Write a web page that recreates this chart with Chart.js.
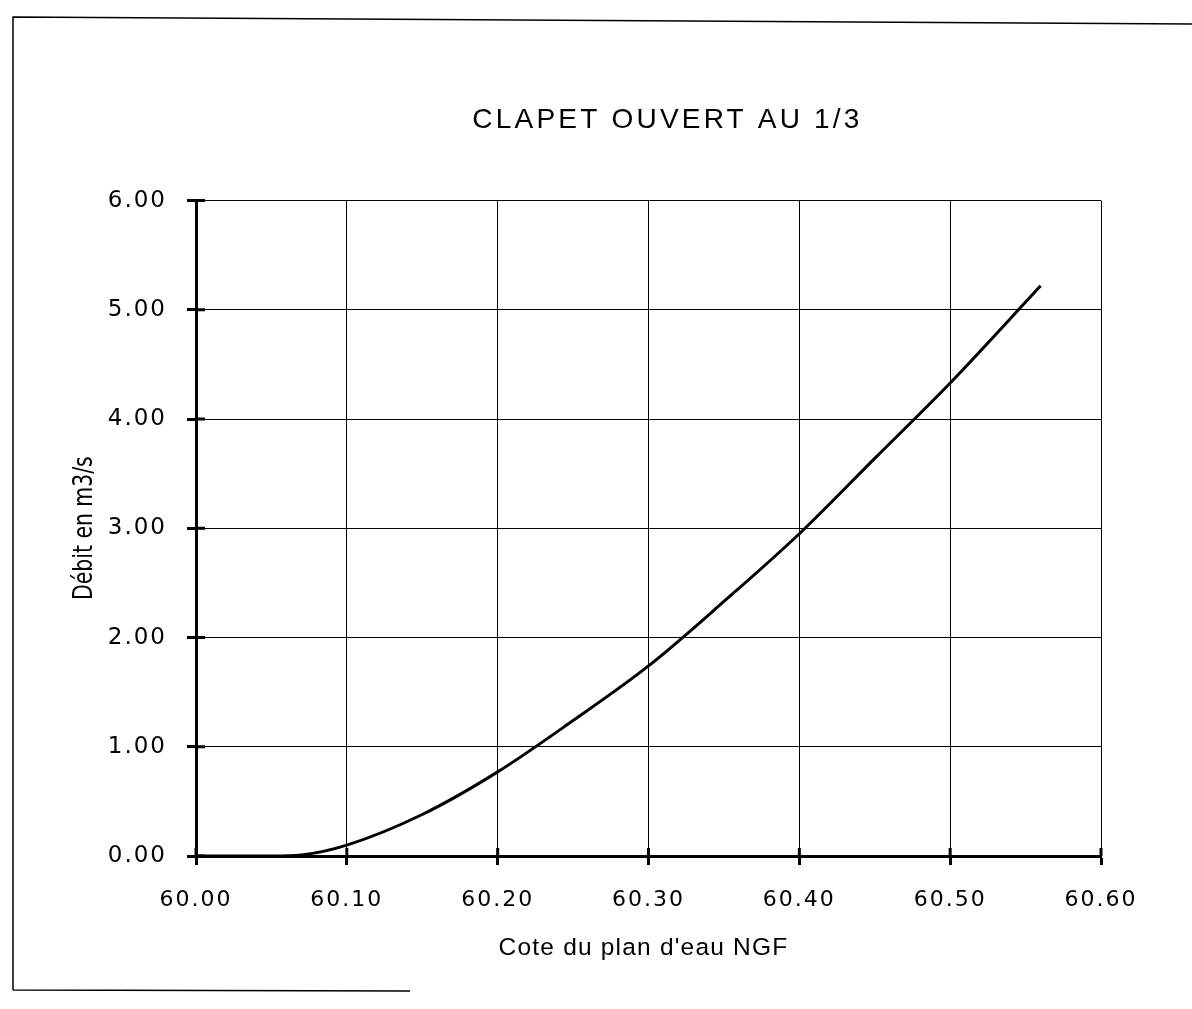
<!DOCTYPE html>
<html>
<head>
<meta charset="utf-8">
<script src="https://cdn.jsdelivr.net/npm/chart.js@4.4.1/dist/chart.umd.min.js"></script>
<style>
  html, body { margin: 0; padding: 0; background: #fff; }
  #c { display: block; }
</style>
</head>
<body>
<canvas id="c" width="1192" height="1009"></canvas>
<script>
// ---- data ----
const chartTitle = 'CLAPET OUVERT AU 1/3';
const xAxisTitle = "Cote du plan d'eau NGF";
const yAxisTitle = 'Débit en m3/s';
const cote  = [60.00, 60.05, 60.07, 60.10, 60.15, 60.20, 60.25, 60.30, 60.35, 60.40, 60.45, 60.50, 60.56];
const debit = [0.00, 0.00, 0.01, 0.10, 0.38, 0.77, 1.24, 1.74, 2.33, 2.95, 3.64, 4.33, 5.22];
const xTickValues = [60.00, 60.10, 60.20, 60.30, 60.40, 60.50, 60.60];
const yTickValues = [0, 1, 2, 3, 4, 5, 6];

const points = cote.map((x, i) => ({ x: x, y: debit[i] }));

// wrap a drawing method to give it its own letter spacing / transform
function wrapDraw(obj, method, spacing, transform) {
  if (!obj || obj['_w_' + method]) return;
  const orig = obj[method];
  obj[method] = function () {
    const c = obj.ctx;
    const prev = c.letterSpacing;
    c.save();
    c.letterSpacing = spacing;
    if (transform) transform(c);
    const r = orig.apply(this, arguments);
    c.restore();
    c.letterSpacing = prev;
    return r;
  };
  obj['_w_' + method] = true;
}

const decor = {
  id: 'decor',
  beforeUpdate(chart) { chart.ctx.letterSpacing = '2px'; },
  afterUpdate(chart) {
    chart.ctx.letterSpacing = '2px';
    // title: centred where the reference places it
    wrapDraw(chart.titleBlock, 'draw', '3.2px', c => c.translate(117, 2));
    // y title: condensed lettering, compressed along the text direction
    wrapDraw(chart.scales.y, 'drawTitle', '0px', c => {
      const a = chart.chartArea;
      const cy = (a.top + a.bottom) / 2 - 1;
      c.translate(0, cy); c.scale(1, 0.84); c.translate(0, -cy);
    });
    wrapDraw(chart.scales.x, 'drawTitle', '1.2px', c => c.translate(-5, 1));
  },
  beforeDraw(chart) {
    const ctx = chart.ctx;
    ctx.letterSpacing = '2px';
    ctx.save();
    ctx.fillStyle = '#fff';
    ctx.fillRect(0, 0, chart.width, chart.height);
    // frame of the scanned sheet
    ctx.strokeStyle = '#000';
    ctx.lineWidth = 1.5;
    ctx.beginPath();
    ctx.moveTo(13, 990); ctx.lineTo(13, 17); ctx.lineTo(1192, 24);
    ctx.moveTo(13, 990); ctx.lineTo(410, 991);
    ctx.stroke();
    ctx.restore();
  },
  afterDatasetsDraw(chart) {
    // inner half of the cross tick marks
    const ctx = chart.ctx, a = chart.chartArea;
    const xs = chart.scales.x, ys = chart.scales.y;
    ctx.save();
    ctx.strokeStyle = '#000';
    ctx.lineWidth = 3;
    ctx.beginPath();
    xs.ticks.forEach(t => {
      const px = xs.getPixelForValue(t.value);
      ctx.moveTo(px, a.bottom); ctx.lineTo(px, a.bottom - 8);
    });
    ys.ticks.forEach(t => {
      const py = ys.getPixelForValue(t.value);
      ctx.moveTo(a.left, py); ctx.lineTo(a.left + 9, py);
    });
    ctx.stroke();
    ctx.restore();
  }
};

new Chart(document.getElementById('c'), {
  type: 'scatter',
  data: {
    datasets: [{
      data: points,
      showLine: true,
      borderColor: '#000',
      borderWidth: 3,
      pointRadius: 0,
      cubicInterpolationMode: 'monotone',
      fill: false
    }]
  },
  options: {
    responsive: false,
    animation: false,
    devicePixelRatio: 1,
    layout: { padding: { left: 0, right: 91, top: 0, bottom: 0 } },
    plugins: {
      legend: { display: false },
      tooltip: { enabled: false },
      title: {
        display: true,
        text: chartTitle,
        color: '#000',
        font: { family: "'Liberation Sans', Arial, sans-serif", size: 28, weight: 'normal', lineHeight: 1.2 },
        padding: { top: 101, bottom: 66 }
      }
    },
    scales: {
      x: {
        type: 'linear',
        min: 60.00,
        max: 60.60,
        afterBuildTicks(scale) { scale.ticks = xTickValues.map(v => ({ value: v })); },
        afterFit(scale) { scale.height = 153; },
        grid: { color: '#000', lineWidth: 1, tickLength: 9, tickWidth: 3, tickColor: '#000' },
        border: { display: true, color: '#000', width: 3 },
        ticks: {
          color: '#000',
          padding: 22,
          maxRotation: 0,
          font: { family: "'DejaVu Sans', sans-serif", size: 22 },
          callback: v => Number(v).toFixed(2)
        },
        title: {
          display: true,
          text: xAxisTitle,
          color: '#000',
          font: { family: "'Liberation Sans', Arial, sans-serif", size: 24.5, lineHeight: 1.2 },
          padding: { top: 0, bottom: 47 }
        }
      },
      y: {
        type: 'linear',
        min: 0,
        max: 6,
        afterBuildTicks(scale) { scale.ticks = yTickValues.map(v => ({ value: v })); },
        afterFit(scale) { scale.width = 196; },
        grid: { color: '#000', lineWidth: 1, tickLength: 9, tickWidth: 3, tickColor: '#000' },
        border: { display: true, color: '#000', width: 3 },
        ticks: {
          color: '#000',
          padding: 20,
          font: { family: "'DejaVu Sans', sans-serif", size: 23 },
          callback: v => Number(v).toFixed(2)
        },
        title: {
          display: true,
          text: yAxisTitle,
          color: '#000',
          font: { family: "'Liberation Sans Narrow', 'DejaVu Sans Condensed', sans-serif", size: 27, lineHeight: 1.2 },
          padding: { top: 69, bottom: 0 }
        }
      }
    }
  },
  plugins: [decor]
});
</script>
</body>
</html>
